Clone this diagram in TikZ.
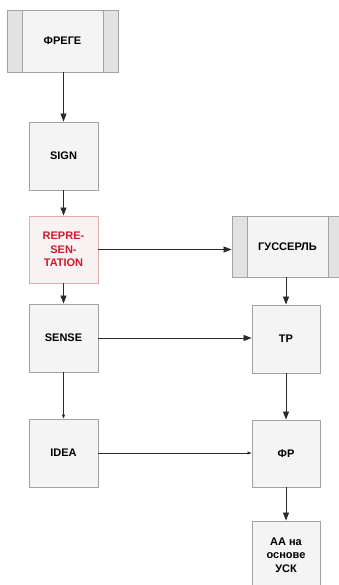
\documentclass[tikz,border=0pt]{standalone}
\usepackage{fontspec}
\setmainfont{Liberation Sans}
\usetikzlibrary{arrows.meta}
\definecolor{boxfill}{HTML}{F4F4F4}
\definecolor{boxdraw}{HTML}{A2A2A2}
\definecolor{barfill}{HTML}{E2E2E2}
\definecolor{redtext}{HTML}{CC1B2E}
\definecolor{redfill}{HTML}{F8F2F2}
\definecolor{reddraw}{HTML}{E6A9B0}
\definecolor{linecol}{HTML}{2A2A2A}
\tikzset{
  x=1pt, y=-1pt,
  box/.style={draw=boxdraw, fill=boxfill, line width=0.9pt, minimum width=69pt, minimum height=68pt,
    inner sep=0pt, align=center, font=\bfseries\fontsize{11}{13.3}\selectfont, text=black},
  redbox/.style={box, draw=reddraw, fill=redfill, text=redtext},
  barbox/.style={box, minimum width=111pt, minimum height=62pt,
    path picture={
      \fill[barfill] (path picture bounding box.south west) rectangle ([xshift=15pt]path picture bounding box.north west);
      \fill[barfill] (path picture bounding box.south east) rectangle ([xshift=-15pt]path picture bounding box.north east);
      \draw[boxdraw, line width=0.9pt] ([xshift=15pt]path picture bounding box.south west) -- ([xshift=15pt]path picture bounding box.north west);
      \draw[boxdraw, line width=0.9pt] ([xshift=-15pt]path picture bounding box.south east) -- ([xshift=-15pt]path picture bounding box.north east);
    }},
  conn/.style={draw=linecol, line width=0.8pt, -{Triangle[length=8pt,width=6pt]}},
  smallconn/.style={draw=linecol, line width=0.8pt, -{Triangle[length=4pt,width=3pt]}}
}
\begin{document}
\begin{tikzpicture}
\useasboundingbox (0,0) rectangle (339,585);
\node[barbox] (frege) at (62.5,41) {ФРЕГЕ};
\node[box] (sign) at (63.5,156) {SIGN};
\node[redbox, minimum height=67pt] (repr) at (63.5,249.5) {REPRE-\\SEN-\\TATION};
\node[box] (sense) at (63.5,338) {SENSE};
\node[box] (idea) at (63.5,453) {IDEA};
\node[barbox, minimum height=61pt] (huss) at (287.5,246.5) {ГУССЕРЛЬ};
\node[box, minimum width=68pt] (tp) at (286,339) {ТР};
\node[box, minimum width=68pt, minimum height=67pt] (fr) at (286,453.5) {ФР};
\node[box, minimum width=68pt] (aa) at (286,555) {АА на\\основе\\УСК};

\draw[conn] (frege.south -| sign.north) -- (sign.north);
\draw[conn] (sign) -- (repr);
\draw[conn] (repr) -- (sense);
\draw[smallconn] (sense) -- (idea);
\draw[conn] (repr.east) -- (repr.east -| huss.west);
\draw[conn] (huss.south -| tp.north) -- (tp.north);
\draw[conn] (sense.east) -- (sense.east -| tp.west);
\draw[conn] (tp) -- (fr);
\draw[smallconn] (idea.east) -- (idea.east -| fr.west);
\draw[conn] (fr) -- (aa);
\end{tikzpicture}
\end{document}
